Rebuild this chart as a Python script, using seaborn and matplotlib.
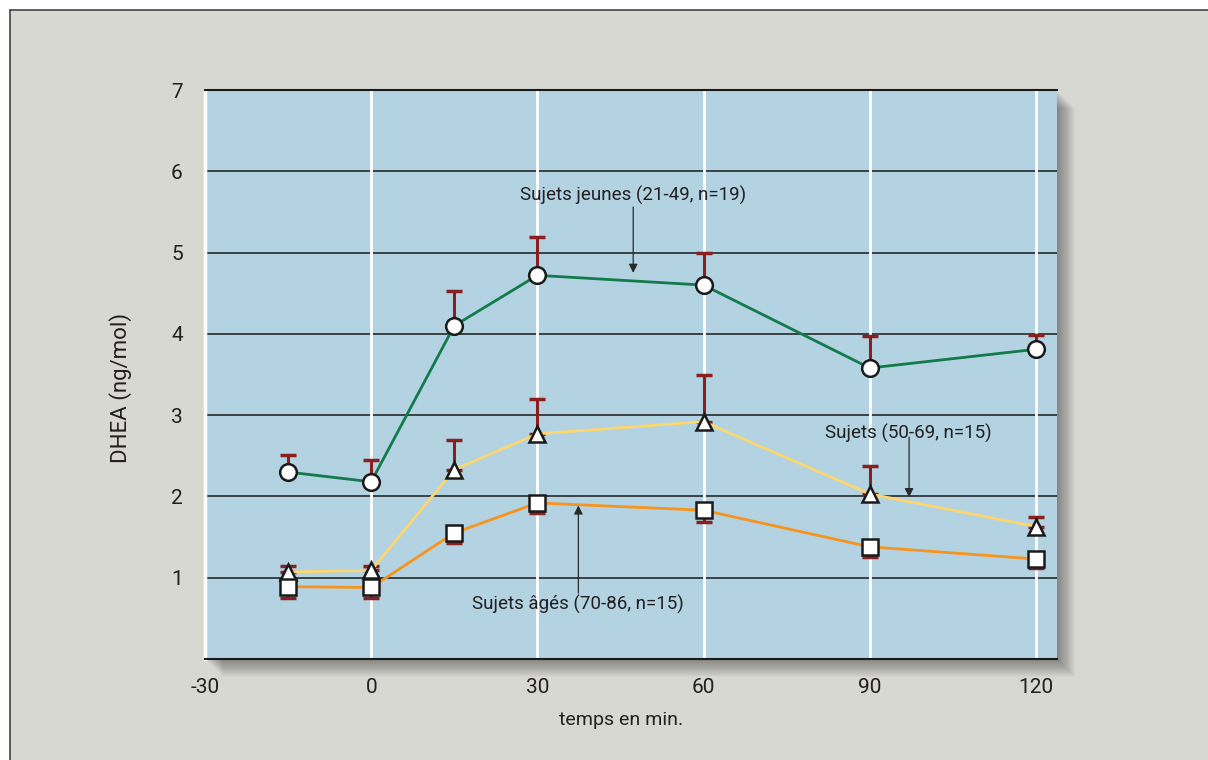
import numpy as np
import pandas as pd
import matplotlib
matplotlib.use("Agg")
import matplotlib.pyplot as plt
import seaborn as sns
from matplotlib.patches import Rectangle
from matplotlib.lines import Line2D

# Data
temps = [-15, 0, 15, 30, 60, 90, 120]
jeunes = [2.30, 2.18, 4.10, 4.72, 4.60, 3.58, 3.81]
jeunes_haut = [2.51, 2.45, 4.53, 5.19, 4.99, 3.97, 3.98]
moyens = [1.07, 1.09, 2.33, 2.77, 2.92, 2.03, 1.63]
moyens_haut = [1.14, 1.15, 2.69, 3.20, 3.49, 2.38, 1.75]
ages = [0.89, 0.88, 1.55, 1.92, 1.83, 1.38, 1.23]
ages_bas = [0.75, 0.75, 1.43, 1.79, 1.69, 1.26, 1.12]
x_ticks = [-30, 0, 30, 60, 90, 120]
y_ticks = [1, 2, 3, 4, 5, 6, 7]

df = pd.DataFrame({
    "temps": temps * 3,
    "dhea": jeunes + moyens + ages,
    "groupe": ["jeunes"] * 7 + ["moyens"] * 7 + ["ages"] * 7,
})

sns.set_theme(style="white")
plt.rcParams["font.family"] = ["Roboto", "DejaVu Sans"]
txt_color = "#231f20"

W, H = 1208, 760
fig = plt.figure(figsize=(W / 100, H / 100), dpi=100)
fig.patch.set_facecolor("white")

# grey background panel with dark top/left border
fig.patches.append(Rectangle((10 / W, 0), 1, 1 - 10 / H, transform=fig.transFigure,
                             facecolor="#d8d8d3", edgecolor="none", zorder=-10))
fig.add_artist(Line2D([10 / W, 1], [1 - 10 / H, 1 - 10 / H], color="#444444", lw=1.2))
fig.add_artist(Line2D([10 / W, 10 / W], [0, 1 - 10 / H], color="#444444", lw=1.2))

left, right, top, bottom = 205, 1057, 90, 659
ax_rect = [left / W, 1 - bottom / H, (right - left) / W, (bottom - top) / H]

# soft drop shadow (right and bottom)
for d in range(1, 19):
    fig.patches.append(Rectangle((ax_rect[0] + d / W, ax_rect[1] - d / H), ax_rect[2], ax_rect[3],
                                 transform=fig.transFigure, facecolor="black", alpha=0.024,
                                 edgecolor="none", zorder=-5))

ax = fig.add_axes(ax_rect)
ax.set_facecolor("#b3d3e3")
ax.set_axisbelow(True)

colors = {"jeunes": "#137a4c", "moyens": "#fdd66e", "ages": "#f7941d"}
markers = {"jeunes": "o", "moyens": "^", "ages": "s"}
sizes = {"jeunes": 12, "moyens": 12, "ages": 12}

err_color = "#8b1e1e"
ax.errorbar(temps, jeunes, yerr=[np.zeros(7), np.array(jeunes_haut) - np.array(jeunes)],
            fmt="none", ecolor=err_color, elinewidth=2.2, capsize=6, capthick=2.5, zorder=2.5)
ax.errorbar(temps, moyens, yerr=[np.zeros(7), np.array(moyens_haut) - np.array(moyens)],
            fmt="none", ecolor=err_color, elinewidth=2.2, capsize=6, capthick=2.5, zorder=2.5)
ax.errorbar(temps, ages, yerr=[np.array(ages) - np.array(ages_bas), np.zeros(7)],
            fmt="none", ecolor=err_color, elinewidth=2.2, capsize=6, capthick=2.5, zorder=2.5)

for g in ["moyens", "ages", "jeunes"]:
    sub = df[df["groupe"] == g]
    sns.lineplot(data=sub, x="temps", y="dhea", ax=ax, color=colors[g], linewidth=2,
                 marker=markers[g], markersize=sizes[g], markerfacecolor="white",
                 markeredgecolor="#1a1a1a", markeredgewidth=1.8, zorder=3)

ax.set_xlim(-30, 123.8)
ax.set_ylim(0, 7)
ax.set_xticks(x_ticks)
ax.set_yticks(y_ticks)
ax.set_xticklabels([str(t) for t in x_ticks])
ax.set_yticklabels([str(t) for t in y_ticks])
ax.tick_params(length=0, labelsize=15, colors=txt_color)
ax.tick_params(axis="y", pad=16)
ax.tick_params(axis="x", pad=14)

for yv in y_ticks[:-1]:
    ax.axhline(yv, color="#1a1a1a", lw=1.1, zorder=1)
for xv in x_ticks[1:]:
    ax.axvline(xv, color="white", lw=2, zorder=1)

ax.spines["right"].set_visible(False)
ax.spines["left"].set_color("white")
ax.spines["left"].set_linewidth(2.5)
ax.spines["top"].set_color("#1a1a1a")
ax.spines["top"].set_linewidth(1.5)
ax.spines["bottom"].set_color("#1a1a1a")
ax.spines["bottom"].set_linewidth(1.5)

ax.set_xlabel("")
ax.set_ylabel("")
fig.text(121 / W, 1 - 388 / H, "DHEA (ng/mol)", rotation=90, ha="center", va="center",
         fontsize=16, color=txt_color)
fig.text(621 / W, 1 - 720 / H, "temps en min.", ha="center", va="center",
         fontsize=14, color=txt_color)

arrow = dict(arrowstyle="-|>", color="#2a2a2a", lw=0.9, mutation_scale=13, shrinkA=0, shrinkB=0)
ax.text(47.3, 5.70, "Sujets jeunes (21-49, n=19)", ha="center", va="center", fontsize=13.5,
        color=txt_color, zorder=5)
ax.annotate("", xy=(47.3, 4.75), xytext=(47.3, 5.56), arrowprops=arrow, zorder=5)

ax.text(96.9, 2.77, "Sujets (50-69, n=15)", ha="center", va="center", fontsize=13.5,
        color=txt_color, zorder=5)
ax.annotate("", xy=(97.1, 1.99), xytext=(97.1, 2.73), arrowprops=arrow, zorder=5)

ax.text(37.4, 0.67, "Sujets âgés (70-86, n=15)", ha="center", va="center", fontsize=13.5,
        color=txt_color, zorder=5)
ax.annotate("", xy=(37.4, 1.89), xytext=(37.4, 0.81), arrowprops=arrow, zorder=5)

fig.savefig("out.png", dpi=100)
